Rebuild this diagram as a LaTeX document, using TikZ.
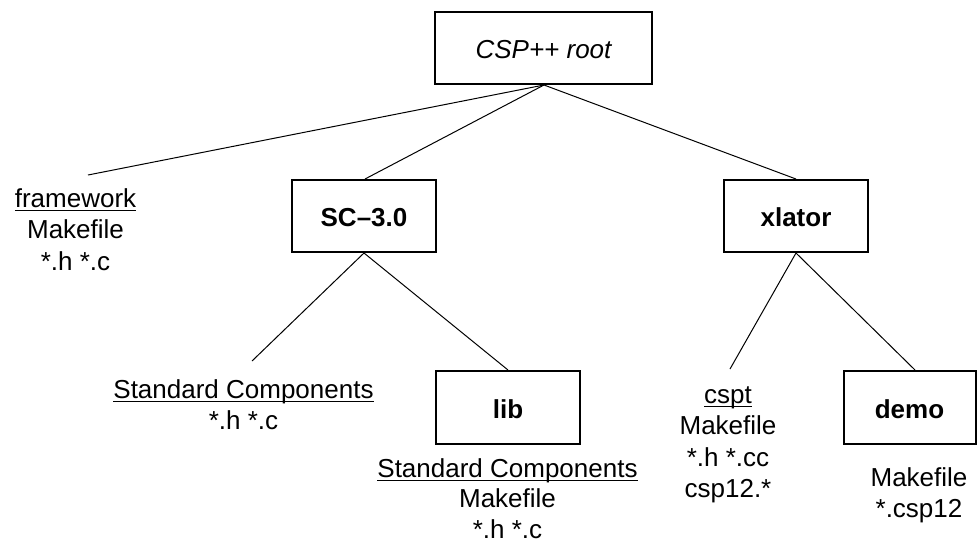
\documentclass[tikz,border=0pt]{standalone}
\usepackage{fontspec}
\setmainfont{Liberation Sans}
\newcommand\undl[1]{\setbox0=\hbox{#1}\rlap{\rule[-4pt]{\wd0}{1.4pt}}\box0}
\newcommand\stk[1]{\vtop{\halign{\hfil##\hfil\cr#1\crcr}}}
\begin{document}
\begin{tikzpicture}[x=1pt,y=-1pt,
  every node/.style={font=\fontsize{26}{31.5}\selectfont},
  dirbox/.style={draw,line width=2pt,inner sep=0pt,minimum height=72pt,text height=21pt,text depth=0pt,font=\fontsize{26}{31.5}\selectfont\bfseries},
  txt/.style={anchor=base,inner sep=0pt},
  conn/.style={line width=1pt}]
\useasboundingbox (0,0) rectangle (977,542);
\node[dirbox,minimum width=217pt,font=\fontsize{26}{31.5}\selectfont\itshape] (root) at (543.5,48) {CSP++ root};
\node[dirbox,minimum width=144pt] (sc) at (364,216) {SC–3.0};
\node[dirbox,minimum width=144pt] (xl) at (796,216) {xlator};
\node[dirbox,minimum width=144pt,minimum height=73pt] (lib) at (508,407.5) {lib};
\node[dirbox,minimum width=132pt,minimum height=73pt] (demo) at (909.5,407.5) {demo};

\node[txt] (fw) at (75.5,207) {\stk{\undl{framework}\cr Makefile\cr *.h *.c}};
\node[txt] (stdl) at (243.5,398) {\stk{\undl{Standard Components}\cr *.h *.c}};
\node[txt,font=\fontsize{26}{30.5}\selectfont] (libt) at (507.5,477) {\stk{\undl{Standard Components}\cr Makefile\cr *.h *.c}};
\node[txt] (cspt) at (728,403) {\stk{\undl{cspt}\cr Makefile\cr *.h *.cc\cr csp12.*}};
\node[txt] (demot) at (919,486) {\stk{Makefile\cr *.csp12}};

\coordinate (fwend) at (88,175);
\coordinate (stdend) at (252,361);
\coordinate (csptend) at (730,369);

\draw[conn] ([xshift=0.5pt]root.south) -- (fwend);
\draw[conn] ([xshift=0.5pt]root.south) -- ([xshift=1pt]sc.north);
\draw[conn] ([xshift=0.5pt]root.south) -- (xl.north);
\draw[conn] (sc.south) -- (stdend);
\draw[conn] (sc.south) -- (lib.north);
\draw[conn] (xl.south) -- (csptend);
\draw[conn] (xl.south) -- ([xshift=5.5pt]demo.north);
\end{tikzpicture}
\end{document}
